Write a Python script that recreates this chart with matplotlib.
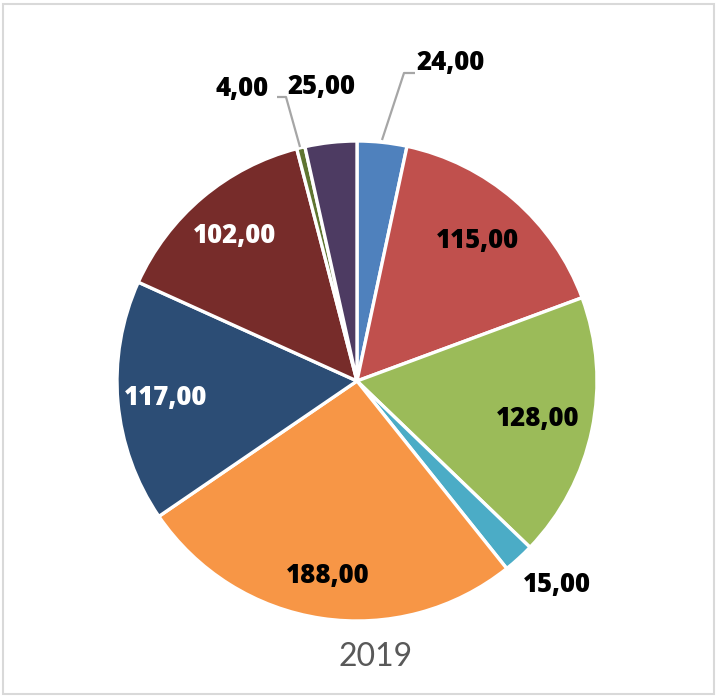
import numpy as np
import matplotlib.pyplot as plt
from matplotlib.patches import Rectangle

values = [24, 115, 128, 15, 188, 117, 102, 4, 25]
labels = ["24,00", "115,00", "128,00", "15,00", "188,00", "117,00", "102,00", "4,00", "25,00"]
colors = ["#4F81BD", "#C0504D", "#9BBB59", "#4BACC6", "#F79646",
          "#2C4D75", "#772C2A", "#5F7530", "#4D3B62"]
label_colors = ["black", "black", "black", "black", "black", "white", "white", "black", "black"]
title = "2019"

W, H = 717, 700
CX, CY, R = 357, H - 381, 240
LABEL_FONT = ["Open Sans", "DejaVu Sans"]
TITLE_FONT = ["Lato", "DejaVu Sans"]

fig = plt.figure(figsize=(W / 100, H / 100), dpi=100)
ax = fig.add_axes([0, 0, 1, 1])

wedges, _ = ax.pie(values, colors=colors, startangle=90, counterclock=False,
                   center=(CX, CY), radius=R,
                   wedgeprops=dict(edgecolor="white", linewidth=2.4))
ax.set_xlim(0, W)
ax.set_ylim(0, H)
ax.set_aspect("equal")
ax.axis("off")

# label placement: inside labels at fixed fraction, small slices outside
inside = {1: 0.77, 2: 0.77, 4: 0.82, 5: 0.80, 6: 0.79}
outside = {0: (451, 63), 3: (557, 585), 7: (242, 89), 8: (321, 87)}
leaders = {0: [(382, 140), (404, 73), (415, 73)],
           7: [(300, 147), (286, 97), (277, 97)]}

for i, w in enumerate(wedges):
    mid = np.deg2rad((w.theta1 + w.theta2) / 2)
    if i in inside:
        d = inside[i] * R
        x, y = CX + d * np.cos(mid), CY + d * np.sin(mid)
    else:
        x, y = outside[i][0], H - outside[i][1]
    ax.text(x, y, labels[i], ha="center", va="center", fontsize=18.5,
            fontweight="heavy", color=label_colors[i], family=LABEL_FONT)

for pts in leaders.values():
    xs = [p[0] for p in pts]
    ys = [H - p[1] for p in pts]
    ax.plot(xs, ys, color="#A6A6A6", linewidth=1.6, solid_capstyle="butt")

ax.text(376, H - 657, title, ha="center", va="center", fontsize=23,
        color="#595959", family=TITLE_FONT)

fig.patches.append(Rectangle((2.5 / W, 1 - 694 / H), 711 / W, 690 / H,
                             transform=fig.transFigure, fill=False,
                             edgecolor="#D9D9D9", linewidth=1.5))

fig.savefig("out.png", dpi=100)
